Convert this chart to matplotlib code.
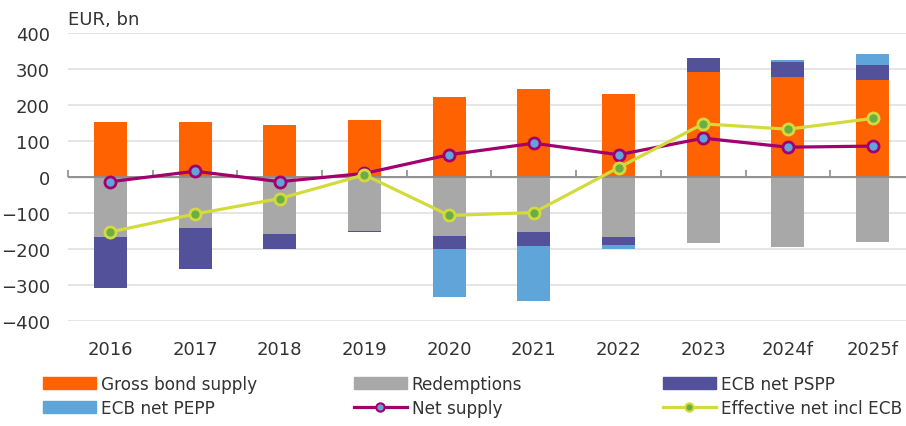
import numpy as np
from matplotlib import pyplot as plt
from matplotlib.patches import Patch
from matplotlib.lines import Line2D

years = ['2016', '2017', '2018', '2019', '2020', '2021', '2022', '2023', '2024f', '2025f']
gross = [154, 154, 144, 158, 223, 245, 230, 292, 277, 270]
redemptions = [-167, -142, -160, -149, -163, -152, -167, -185, -195, -181]
pspp = [-143, -113, -41, -3, -38, -40, -21, 39, 43, 43]
pepp = [0, 0, 0, 0, -134, -153, -13, 0, 7, 28]
net_supply = [-13, 16, -13, 10, 62, 94, 62, 108, 83, 86]
effective = [-153, -103, -60, 6, -107, -99, 26, 148, 133, 163]

c_orange = '#FF6200'
c_grey = '#A8A8A8'
c_purple = '#525199'
c_blue = '#60A5DA'
c_magenta = '#A3006F'
c_lime = '#D3DB3C'
c_green = '#6AAE45'
c_text = '#333333'

plt.rcParams['font.family'] = 'DejaVu Sans'

fig = plt.figure(figsize=(9.06, 4.27), dpi=100)
ax = fig.add_axes([68 / 906, 0.2466, 1 - 68 / 906, 0.6731])

x = np.arange(len(years))
w = 0.39

'''stack positives and negatives separately'''
pos_base = np.zeros(len(years))
neg_base = np.zeros(len(years))
for vals, col in [(gross, c_orange), (redemptions, c_grey), (pspp, c_purple), (pepp, c_blue)]:
    v = np.array(vals, dtype=float)
    p = np.where(v > 0, v, 0)
    n = np.where(v < 0, v, 0)
    ax.bar(x, p, w, bottom=pos_base, color=col, zorder=2)
    ax.bar(x, n, w, bottom=neg_base, color=col, zorder=2)
    pos_base += p
    neg_base += n

ax.plot(x, net_supply, color=c_magenta, lw=2.3, marker='o', ms=8, mfc=c_blue,
        mec=c_magenta, mew=2, zorder=4)
ax.plot(x, effective, color=c_lime, lw=2.3, marker='o', ms=8, mfc=c_green,
        mec=c_lime, mew=2, zorder=5)

ax.set_xlim(-0.5, 9.394)
ax.set_ylim(-400, 400)
ax.set_yticks(range(-400, 401, 100))
ax.yaxis.grid(True, color='#E3E3E3', lw=1.3, zorder=0)
ax.set_axisbelow(True)
for s in ax.spines.values():
    s.set_visible(False)
ax.tick_params(axis='y', length=0, pad=13, labelsize=13, labelcolor=c_text)
ax.set_xticks(x)
ax.set_xticklabels(years)
ax.tick_params(axis='x', length=0, pad=14, labelsize=13, labelcolor=c_text)

# zero line with boundary ticks
ax.axhline(0, color='#8C8C8C', lw=1.3, zorder=3)
sec = ax.secondary_xaxis(0.5)
sec.spines['bottom'].set_visible(False)
sec.set_xticks(np.arange(-0.5, 9.5, 1.0))
sec.set_xticklabels([])
sec.tick_params(axis='x', direction='out', length=5, width=1.2, color='#8C8C8C')

fig.text(68 / 906, 1 - 20 / 427, 'EUR, bn', fontsize=13, color=c_text, va='center', ha='left')

'''legend in three columns'''
h_gross = Patch(color=c_orange)
h_red = Patch(color=c_grey)
h_pspp = Patch(color=c_purple)
h_pepp = Patch(color=c_blue)
h_net = Line2D([], [], color=c_magenta, lw=2.3, marker='o', ms=6, mfc=c_blue, mec=c_magenta, mew=1.5)
h_eff = Line2D([], [], color=c_lime, lw=2.3, marker='o', ms=6, mfc=c_green, mec=c_lime, mew=1.5)
cols = [([h_gross, h_pepp], ['Gross bond supply', 'ECB net PEPP'], 43),
        ([h_red, h_net], ['Redemptions', 'Net supply'], 354),
        ([h_pspp, h_eff], ['ECB net PSPP', 'Effective net incl ECB'], 663)]
for hs, ls, xp in cols:
    fig.legend(hs, ls, loc='upper left', bbox_to_anchor=(xp / 906, 1 - 376 / 427),
               frameon=False, fontsize=12.2, handlelength=3.1, handleheight=0.7,
               handletextpad=0.3, labelspacing=0.35, borderpad=0, borderaxespad=0,
               labelcolor=c_text)

fig.savefig('out.png', dpi=100)
